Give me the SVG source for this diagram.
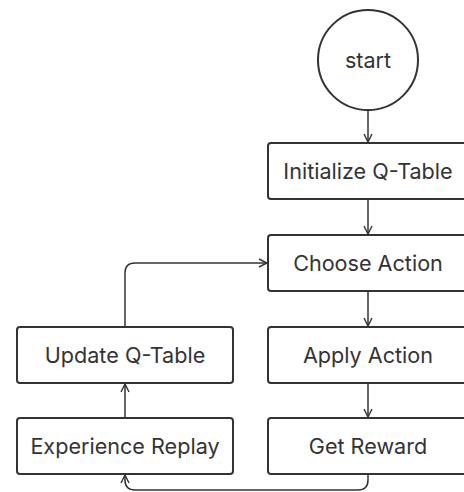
<svg xmlns="http://www.w3.org/2000/svg" width="464" height="492" viewBox="0 0 464 492">
<defs>
<marker id="arr" viewBox="0 0 10 10" refX="9" refY="5" markerWidth="10" markerHeight="10" markerUnits="userSpaceOnUse" orient="auto">
<path d="M1,1 L9,5 L1,9" fill="none" stroke="#333" stroke-width="1.4"/>
</marker>
<style>
.n{fill:#fff;stroke:#333;stroke-width:2}
.t{font-family:Inter,"Liberation Sans",sans-serif;font-size:21.6px;fill:#333;text-anchor:middle;dominant-baseline:central}
.c{fill:none;stroke:#333;stroke-width:1.5;marker-end:url(#arr)}
</style>
</defs>
<rect width="464" height="492" fill="#fff"/>
<g id="connectors">
<path class="c" d="M368,110 V142"/>
<path class="c" d="M368,199 V234"/>
<path class="c" d="M368,291 V326"/>
<path class="c" d="M368,383 V417"/>
<path class="c" d="M368,474 V480 Q368,490 358,490 H135 Q125,490 125,480 V475"/>
<path class="c" d="M125,418 V384"/>
<path class="c" d="M125,327 V273 Q125,263 135,263 H267"/>
</g>
<g id="start"><circle class="n" cx="368" cy="60" r="50"/><text class="t" x="368" y="60">start</text></g>
<g id="init"><rect class="n" x="268" y="143" width="200" height="56" rx="3"/><text class="t" x="368" y="171">Initialize Q-Table</text></g>
<g id="choose"><rect class="n" x="268" y="235" width="200" height="56" rx="3"/><text class="t" x="368" y="263">Choose Action</text></g>
<g id="apply"><rect class="n" x="268" y="327" width="200" height="56" rx="3"/><text class="t" x="368" y="355">Apply Action</text></g>
<g id="reward"><rect class="n" x="268" y="418" width="200" height="56" rx="3"/><text class="t" x="368" y="446">Get Reward</text></g>
<g id="update"><rect class="n" x="17" y="327" width="216" height="56" rx="3"/><text class="t" x="125" y="355">Update Q-Table</text></g>
<g id="replay"><rect class="n" x="17" y="418" width="216" height="56" rx="3"/><text class="t" x="125" y="446">Experience Replay</text></g>
</svg>
